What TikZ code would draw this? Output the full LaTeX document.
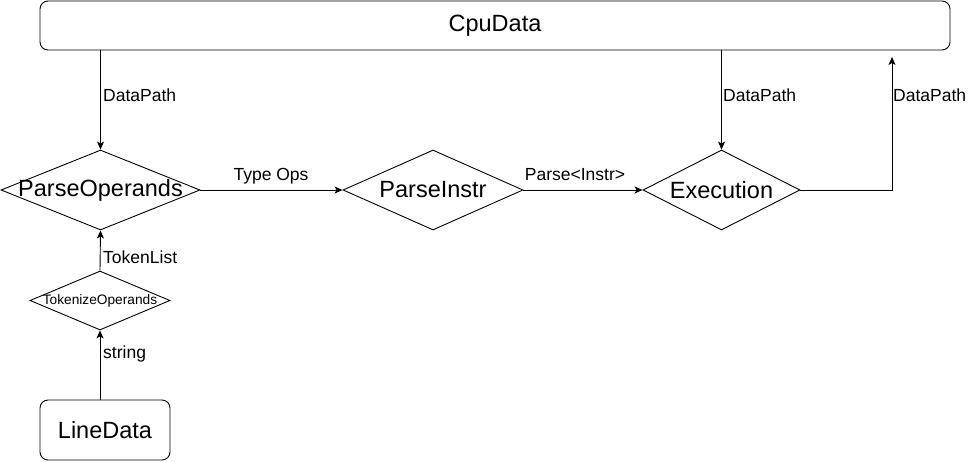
\documentclass[tikz,border=0pt]{standalone}
\usepackage{fontspec}
\setmainfont{Liberation Sans}
\usetikzlibrary{shapes.geometric,arrows.meta}
\begin{document}
\begin{tikzpicture}[x=1pt,y=-1pt,
  box/.style={draw, rounded corners=8pt, line width=0.9pt, inner sep=0pt, font=\fontsize{23.5}{28}\selectfont},
  dia/.style={draw, diamond, line width=0.9pt, inner sep=0pt},
  big/.style={font=\fontsize{23.5}{28}\selectfont},
  small/.style={font=\fontsize{13.7}{16}\selectfont},
  lbl/.style={font=\fontsize{17.5}{21}\selectfont, inner sep=0pt},
  arr/.style={line width=0.9pt, -{Stealth[length=8pt,width=7pt,inset=2pt]}},
  ln/.style={line width=0.9pt}]
\useasboundingbox (0,0) rectangle (968,462);

\node[box, minimum width=910pt, minimum height=49pt] (cpu) at (495,25.5) {CpuData};
\node[box, minimum width=130pt, minimum height=60pt] (ld) at (105,430) {LineData};

\node[dia, minimum width=199pt, minimum height=80pt, label={[big]center:ParseOperands}] (po) at (100.5,190) {};
\node[dia, minimum width=180pt, minimum height=80pt, label={[big]center:ParseInstr}] (pi) at (433,190) {};
\node[dia, minimum width=157pt, minimum height=80pt, label={[big]center:Execution}] (ex) at (721.5,190) {};
\node[dia, minimum width=140pt, minimum height=59pt, label={[small]center:TokenizeOperands}] (to) at (100,300.5) {};

\coordinate (up) at (892,57);

\draw[arr] (cpu.south -| po.north) -- (po.north);
\draw[arr] (cpu.south -| ex.north) -- (ex.north);
\draw[arr] (po.east) -- (pi.west);
\draw[arr] (pi.east) -- (ex.west);
\draw[arr] (ex.east) -| (up);
\draw[arr] (to.north) -- (po.south);
\draw[arr] (ld.north -| to.south) -- (to.south);

\node[lbl, anchor=base west] (l1) at (103,102) {DataPath};
\node[lbl, anchor=base west] (l2) at (723,102) {DataPath};
\node[lbl, anchor=base west] (l3) at (893,102) {DataPath};
\node[lbl, anchor=base] (l4) at (271,181) {Type Ops};
\node[lbl, anchor=base] (l5) at (575,181) {Parse<Instr>};
\node[lbl, anchor=base west] (l6) at (103,263) {TokenList};
\node[lbl, anchor=base west] (l7) at (103,358) {string};
\end{tikzpicture}
\end{document}
